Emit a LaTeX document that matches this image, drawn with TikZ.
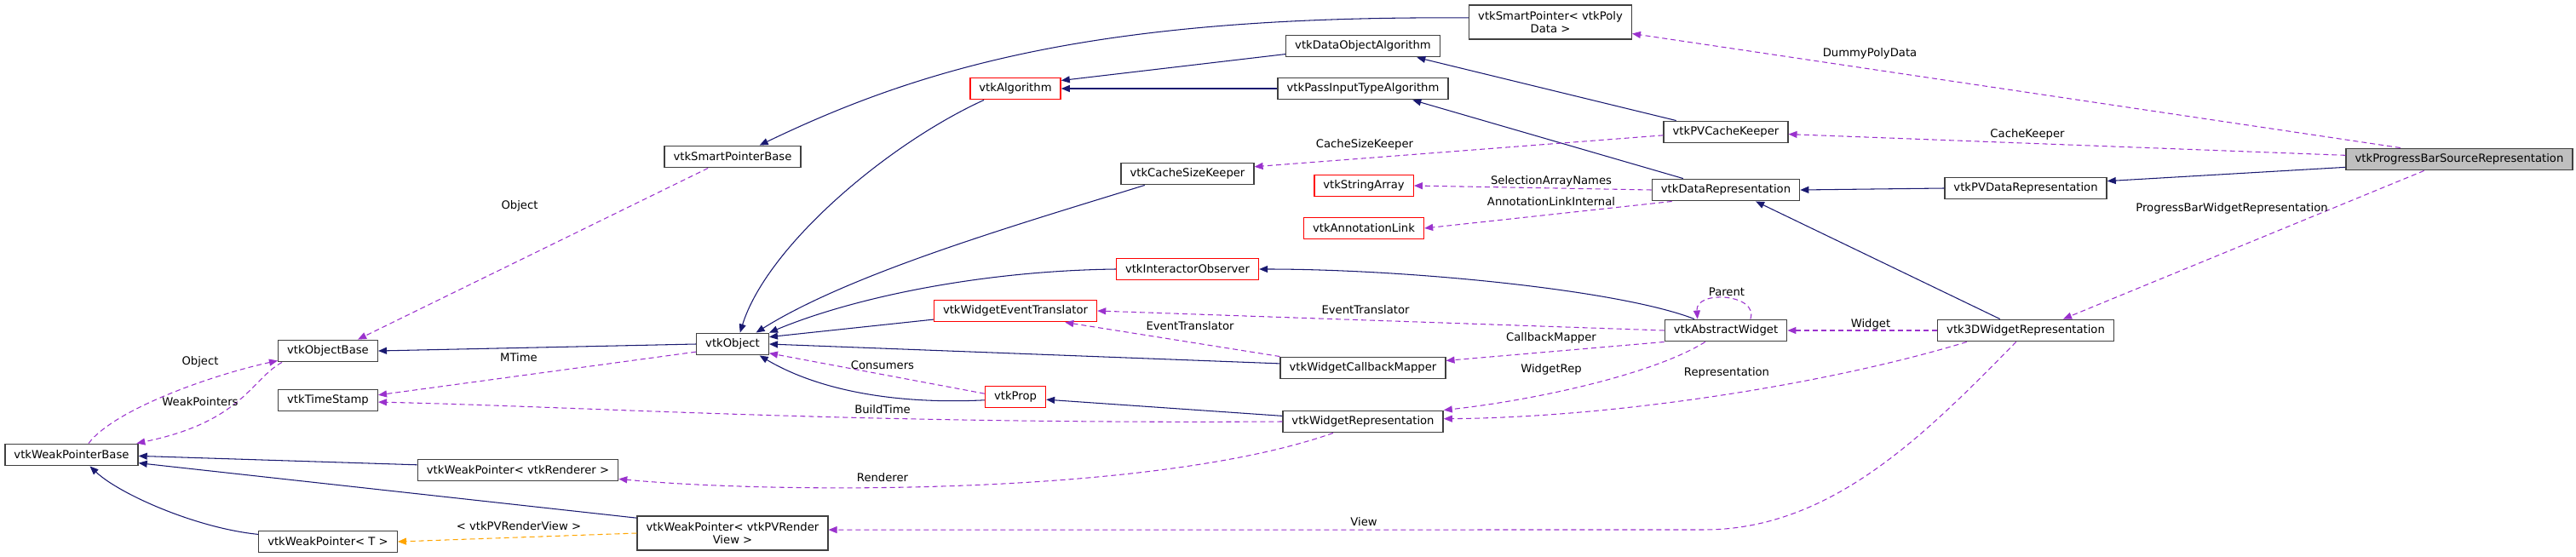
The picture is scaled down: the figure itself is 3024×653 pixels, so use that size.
\documentclass[tikz,border=0pt]{standalone}
\usepackage{fontspec}
\setmainfont{DejaVu Sans}
\usepackage{tikz}
\usetikzlibrary{arrows.meta}
\definecolor{edgeblue}{HTML}{191970}
\definecolor{edgepurple}{HTML}{9A32CD}
\definecolor{edgeorange}{HTML}{FFA500}
\definecolor{boxgray}{HTML}{BFBFBF}
\definecolor{boxline}{HTML}{404040}

\begin{document}
\begin{tikzpicture}[x=0.2mm,y=-0.2mm,
    font=\fontsize{7.5}{8.6}\selectfont,
    cls/.style={draw=boxline,line width=0.8pt,fill=white,inner xsep=2.1mm,inner ysep=0.5mm,minimum height=5.1mm},
    trunc/.style={cls,draw=red},
    cur/.style={cls,fill=boxgray},
    twoline/.style={cls,align=center,minimum height=8mm},
    inhedge/.style={draw=edgeblue,line width=0.6pt,-{Triangle[length=2mm,width=1.6mm]}},
    useedge/.style={draw=edgepurple,line width=0.6pt,dash pattern=on 1.2mm off 0.8mm,-{Triangle[length=2mm,width=1.6mm]}},
    tmpledge/.style={useedge,draw=edgeorange},
    elabel/.style={inner sep=0.5pt}]
    \useasboundingbox (0,0) rectangle (3024,653);
    % classes
    \node[cls] (wpb) at (84,534) {vtkWeakPointerBase};
    \node[cls] (objbase) at (385,412) {vtkObjectBase};
    \node[cls] (tstamp) at (385,470) {vtkTimeStamp};
    \node[cls] (wpt) at (385,636) {vtkWeakPointer< T >};
    \node[cls] (wpren) at (608,552) {vtkWeakPointer< vtkRenderer >};
    \node[cls] (spbase) at (860,184) {vtkSmartPointerBase};
    \node[cls] (object) at (860,404) {vtkObject};
    \node[twoline] (wppv) at (860,626) {vtkWeakPointer< vtkPVRender\\View >};
    \node[trunc] (algo) at (1192,104) {vtkAlgorithm};
    \node[cls] (cachesize) at (1394,204) {vtkCacheSizeKeeper};
    \node[trunc] (interobs) at (1394,316) {vtkInteractorObserver};
    \node[trunc] (evtrans) at (1192,365) {vtkWidgetEventTranslator};
    \node[trunc] (prop) at (1192,466) {vtkProp};
    \node[cls] (doalgo) at (1600,54) {vtkDataObjectAlgorithm};
    \node[cls] (passalgo) at (1600,104) {vtkPassInputTypeAlgorithm};
    \node[trunc] (strarr) at (1601,218) {vtkStringArray};
    \node[trunc] (annlink) at (1601,268) {vtkAnnotationLink};
    \node[cls] (cbmap) at (1600,432) {vtkWidgetCallbackMapper};
    \node[cls] (widgrep) at (1600,495) {vtkWidgetRepresentation};
    \node[twoline] (sppoly) at (1820,26) {vtkSmartPointer< vtkPoly\\Data >};
    \node[cls] (pvcache) at (2026,155) {vtkPVCacheKeeper};
    \node[cls] (datarep) at (2026,223) {vtkDataRepresentation};
    \node[cls] (abswid) at (2026,388) {vtkAbstractWidget};
    \node[cls] (pvdatarep) at (2378,221) {vtkPVDataRepresentation};
    \node[cls] (wid3d) at (2378,388) {vtk3DWidgetRepresentation};
    \node[cur] (pbsr) at (2887,187) {vtkProgressBarSourceRepresentation};
    % inheritance
    \draw[inhedge] (object.west) -- (objbase.east);
    \draw[inhedge] (wpren.177) -- (wpb.-1);
    \draw[inhedge] (wppv.171) -- (wpb.-7);
    \draw[inhedge] (wpt.174) .. controls (230,620) and (140,580) .. (wpb.-32);
    \draw[inhedge] (sppoly.177) .. controls (1300,18) and (1090,75) .. (spbase.23);
    \draw[inhedge] (doalgo.186) -- (algo.10);
    \draw[inhedge] (passalgo.west) -- (algo.east);
    \draw[inhedge] (algo.200) .. controls (1040,170) and (900,290) .. (object.57);
    \draw[inhedge] (cachesize.195) .. controls (1200,262) and (1000,320) .. (object.26);
    \draw[inhedge] (interobs.west) .. controls (1150,318) and (1000,350) .. (object.north east);
    \draw[inhedge] (evtrans.186) -- (object.11);
    \draw[inhedge] (cbmap.177) -- (object.east);
    \draw[inhedge] (prop.186) .. controls (1050,475) and (960,458) .. (object.-23);
    \draw[inhedge] (widgrep.176) -- (prop.-5);
    \draw[inhedge] (abswid.160) .. controls (1900,340) and (1650,316) .. (interobs.east);
    \draw[inhedge] (pvdatarep.west) -- (datarep.east);
    \draw[inhedge] (pbsr.184) -- (pvdatarep.5);
    \draw[inhedge] (wid3d.156) -- (datarep.-21);
    \draw[inhedge] (datarep.165) -- (passalgo.-13);
    \draw[inhedge] (pvcache.167) -- (doalgo.-12);
    % members
    \draw[useedge] (spbase.205) -- (objbase.21);
    \draw[useedge] (wpb.34) .. controls (135,480) and (250,440) .. (objbase.191);
    \draw[useedge] (objbase.194) .. controls (295,445) and (285,495) .. (wpb.10);
    \draw[useedge] (object.192) -- (tstamp.6);
    \draw[useedge] (widgrep.west) .. controls (1000,498) and (700,478) .. (tstamp.-2);
    \draw[useedge] (widgrep.201) .. controls (1350,584) and (900,579) .. (wpren.-5);
    \draw[useedge] (wid3d.230) .. controls (2260,510) and (2150,622) .. (2000,622) -- (wppv.2);
    \draw[useedge] (prop.174) -- (object.-14);
    \draw[useedge] (abswid.west) -- (evtrans.east);
    \draw[useedge] (cbmap.north west) -- (evtrans.-13);
    \draw[useedge] (abswid.south west) -- (cbmap.5);
    \draw[useedge] (abswid.209) .. controls (1940,440) and (1800,470) .. (widgrep.north east);
    \draw[useedge] (wid3d.191) .. controls (2150,450) and (1900,490) .. (widgrep.2);
    \draw[useedge] (abswid.25) .. controls (2065,345) and (1990,340) .. (abswid.158);
    \draw[useedge] (wid3d.west) -- (abswid.east);
    \draw[useedge] (pbsr.178) -- (pvcache.-2);
    \draw[useedge] (pbsr.169) -- (sppoly.-8);
    \draw[useedge] (pbsr.198) -- (wid3d.17);
    \draw[useedge] (pvcache.183) -- (cachesize.6);
    \draw[useedge] (datarep.west) -- (strarr.east);
    \draw[useedge] (datarep.192) -- (annlink.east);
    % template instance
    \draw[tmpledge] (wppv.west) -- (wpt.east);
    % edge labels
    \node[elabel] (lObjSp) at (610,242) {Object};
    \node[elabel] (lObjWp) at (235,425) {Object};
    \node[elabel] (lWeak) at (235,472) {WeakPointers};
    \node[elabel] (lMTime) at (609,420) {MTime};
    \node[elabel] (lTmpl) at (609,618) {< vtkPVRenderView >};
    \node[elabel] (lEvtA) at (1397,383) {EventTranslator};
    \node[elabel] (lCons) at (1036,429) {Consumers};
    \node[elabel] (lBuild) at (1036,481) {BuildTime};
    \node[elabel] (lRend) at (1036,561) {Renderer};
    \node[elabel] (lDummy) at (2195,63) {DummyPolyData};
    \node[elabel] (lCSK) at (1602,170) {CacheSizeKeeper};
    \node[elabel] (lSel) at (1821,213) {SelectionArrayNames};
    \node[elabel] (lAnn) at (1821,237) {AnnotationLinkInternal};
    \node[elabel] (lParent) at (2027,343) {Parent};
    \node[elabel] (lEvtB) at (1603,364) {EventTranslator};
    \node[elabel] (lCbm) at (1821,397) {CallbackMapper};
    \node[elabel] (lWRep) at (1821,434) {WidgetRep};
    \node[elabel] (lRep) at (2027,438) {Representation};
    \node[elabel] (lWid) at (2196,381) {Widget};
    \node[elabel] (lView) at (1601,613) {View};
    \node[elabel] (lCK) at (2380,158) {CacheKeeper};
    \node[elabel] (lPBW) at (2620,245) {ProgressBarWidgetRepresentation};
  \end{tikzpicture}
\end{document}
